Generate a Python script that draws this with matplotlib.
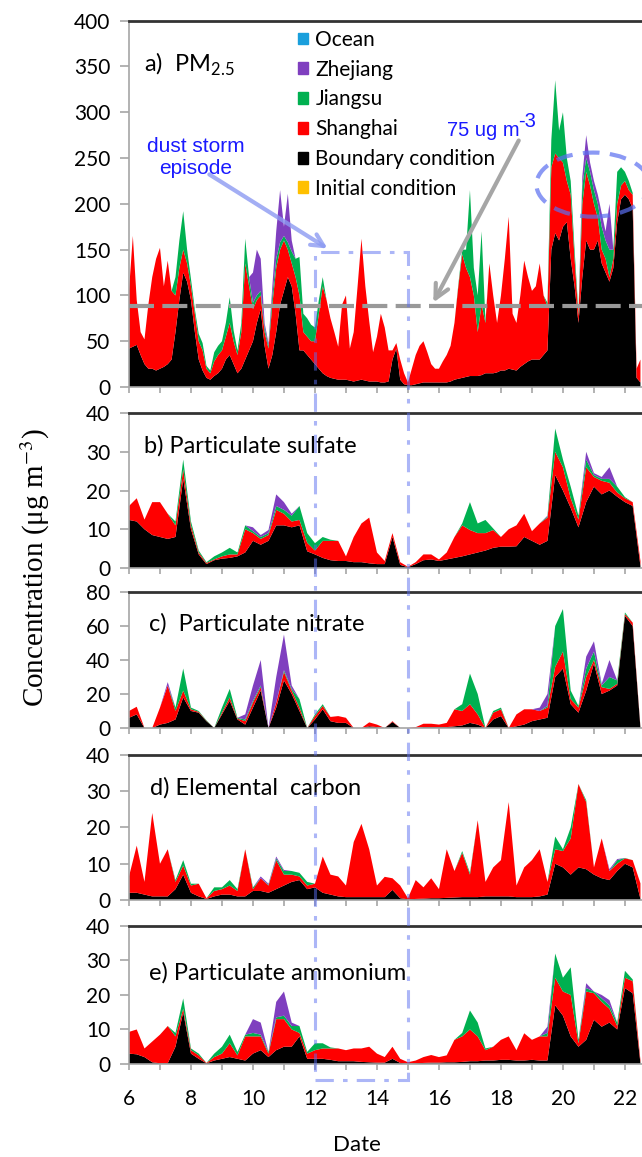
import numpy as np
import matplotlib.pyplot as plt
from matplotlib.patches import Patch, Rectangle, Ellipse, FancyArrowPatch

plt.rcParams['font.family'] = ['Lato', 'DejaVu Sans']
plt.rcParams['mathtext.fontset'] = 'custom'
plt.rcParams['mathtext.rm'] = 'Lato'

# time axes: PM2.5 every 3 h, the species every 6 h, day 6 to day 22.5
days_pm = np.arange(6, 22.51, 0.125)
days = np.arange(6, 22.51, 0.25)

# a) PM2.5 (one row per day)
pm25_boundary = [42, 44, 46, 35, 25, 20, 20, 18,
                 20, 22, 25, 30, 60, 95, 125, 115,
                 95, 60, 30, 18, 10, 8, 12, 15,
                 20, 30, 35, 25, 15, 20, 30, 40,
                 50, 70, 85, 45, 20, 35, 60, 90,
                 105, 120, 110, 80, 40, 40, 35, 30,
                 25, 20, 15, 12, 10, 9, 8, 8,
                 8, 7, 6, 7, 8, 7, 6, 6,
                 6, 5, 5, 6, 30, 42, 8, 3,
                 2, 2, 3, 4, 5, 5, 5, 5,
                 5, 5, 5, 6, 8, 9, 10, 11,
                 12, 12, 12, 13, 15, 15, 15, 16,
                 18, 18, 20, 19, 18, 22, 25, 28,
                 30, 30, 30, 35, 40, 150, 168, 160,
                 175, 180, 140, 110, 70, 120, 160, 150,
                 150, 160, 135, 125, 115, 130, 180, 205,
                 210, 205, 195, 10, 5]
pm25_shanghai = [63, 121, 49, 25, 27, 70, 100, 122,
                 132, 88, 113, 75, 40, 35, 25, 20,
                 15, 20, 20, 22, 10, 7, 16, 20,
                 20, 25, 35, 25, 20, 40, 105, 70,
                 35, 25, 15, 15, 22, 55, 70, 60,
                 55, 30, 25, 40, 60, 20, 20, 20,
                 25, 60, 95, 83, 65, 51, 36, 82,
                 92, 35, 54, 103, 154, 103, 66, 32,
                 49, 75, 60, 34, 10, 6, 22, 12,
                 3, 18, 32, 41, 45, 33, 20, 15,
                 15, 23, 30, 39, 62, 101, 135, 119,
                 108, 88, 48, 77, 55, 120, 85, 54,
                 82, 122, 166, 61, 52, 78, 113, 92,
                 75, 80, 105, 65, 48, 90, 87, 90,
                 70, 45, 70, 30, 8, 80, 75, 70,
                 50, 25, 15, 15, 5, 10, 20, 15,
                 15, 10, 15, 10, 25]
pm25_jiangsu = [0, 0, 0, 0, 0, 0, 0, 0,
                0, 0, 0, 0, 20, 30, 42, 15,
                8, 5, 8, 8, 3, 3, 10, 10,
                10, 15, 28, 12, 5, 10, 27, 10,
                7, 5, 5, 5, 3, 10, 10, 8,
                5, 8, 13, 20, 42, 20, 20, 18,
                15, 15, 10, 0, 0, 0, 0, 0,
                0, 0, 0, 0, 0, 0, 0, 0,
                0, 0, 0, 0, 0, 0, 0, 0,
                0, 0, 0, 0, 0, 0, 0, 0,
                0, 0, 0, 0, 0, 2, 5, 20,
                95, 30, 40, 80, 2, 0, 0, 0,
                0, 0, 0, 0, 0, 0, 0, 0,
                0, 0, 0, 0, 4, 30, 80, 30,
                55, 25, 15, 10, 4, 20, 15, 15,
                15, 15, 25, 20, 30, 10, 35, 20,
                10, 10, 2, 0, 0]
pm25_zhejiang = [0, 0, 0, 0, 0, 0, 0, 0,
                 0, 0, 0, 0, 0, 0, 0, 0,
                 0, 0, 0, 0, 0, 0, 0, 0,
                 0, 0, 0, 0, 0, 0, 0, 0,
                 33, 50, 35, 5, 3, 10, 30, 57,
                 10, 53, 12, 0, 0, 0, 0, 0,
                 0, 0, 0, 0, 0, 0, 0, 0,
                 0, 0, 0, 0, 0, 0, 0, 0,
                 0, 0, 0, 0, 0, 0, 0, 0,
                 0, 0, 0, 0, 0, 0, 0, 0,
                 0, 0, 0, 0, 0, 0, 0, 0,
                 0, 0, 0, 0, 0, 0, 0, 0,
                 0, 0, 0, 0, 0, 0, 0, 0,
                 0, 0, 0, 0, 0, 0, 0, 0,
                 0, 0, 0, 0, 0, 10, 25, 10,
                 10, 10, 15, 10, 50, 0, 0, 0,
                 0, 0, 0, 0, 0]

# b) sulfate
so4_boundary = [12.4, 12, 10, 8.5, 8, 7.5, 8, 23, 10, 3.5, 1, 2, 2.4, 2.6, 3, 4,
                7, 6, 7, 11, 11, 10.5, 11, 4.3, 3.5, 2.6, 2, 1.8, 1.8, 1.5, 1.5, 1.2,
                1, 1, 8, 0.8, 0.2, 1, 2, 2.2, 1.8, 2.2, 2.6, 3, 3.5, 4, 4.5, 5.2,
                5.5, 5.5, 5.6, 8, 7, 6, 7, 24, 20, 15.5, 10.5, 17, 21, 19, 20, 18.4,
                17, 16, 0.5]
so4_shanghai = [3.6, 6, 2.5, 8.5, 9, 6.5, 3, 2.5, 1, 0.5, 0.3, 0.2, 0.6, 0.9, 0.5, 6,
                2, 1.5, 1.5, 4, 3, 1.5, 1.4, 2.2, 1, 4.4, 5, 5.2, 1.2, 6.5, 10, 11.8,
                3, 0.8, 1, 0.7, 0.1, 0.5, 1.5, 1.3, 0.4, 1.8, 5.4, 8, 6.3, 5, 4.5, 4.6,
                2.5, 4.5, 5.4, 6, 2.5, 5.5, 6, 6, 6, 2.5, 2, 9, 2.5, 3.5, 2, 1.1,
                1, 1, 1.3]
so4_jiangsu = [0, 0, 0, 0, 0, 0, 1, 2.5, 1, 0.5, 0.2, 0.8, 1, 1.7, 0.5, 1,
               0.5, 0.5, 0.5, 1, 1, 1.5, 3.6, 2.5, 1.9, 1, 0.3, 0, 0, 0, 0, 0,
               0, 0, 0, 0, 0, 0, 0, 0, 0, 0, 0, 0.5, 7.2, 2.5, 3.4, 0.4,
               0, 0, 0, 0, 0, 0, 0.3, 6, 2, 3, 1, 2, 0.5, 0.5, 1, 1.5,
               0.3, 0, 0]
so4_zhejiang = [0, 0, 0, 0, 0, 0, 0, 0, 0, 0, 0, 0, 0, 0, 0, 0,
                1, 0.5, 0.8, 3, 2, 0.5, 0, 0, 0, 0, 0, 0, 0, 0, 0, 0,
                0, 0, 0, 0, 0, 0, 0, 0, 0, 0, 0, 0, 0, 0, 0, 0,
                0, 0, 0, 0, 0, 0, 0.2, 0, 0, 0, 0, 2, 0.5, 0.5, 3, 0,
                0, 0, 0]

# c) nitrate
no3_boundary = [6, 8, 0, 0, 2, 3, 5, 18, 10, 9, 4, 0, 8, 16, 5, 2,
                12, 22, 0, 12, 28, 20, 10, 0, 5, 11, 4, 3, 3, 0, 0, 1,
                0.5, 0, 3.5, 0, 0, 0, 0.5, 0.5, 0.5, 0.5, 1, 1.5, 3, 2, 0, 5,
                7, 0, 1, 2, 4, 5, 6, 30, 35, 14, 9, 22, 38, 20, 22, 25,
                66, 60, 0]
no3_shanghai = [4, 4.5, 0, 0, 10, 22, 5, 4, 1, 0.5, 0.2, 0, 1, 2, 0.5, 2,
                3, 2, 0, 3, 5, 2, 2, 0, 2, 2, 2.5, 4, 3, 0, 0, 2.3,
                1.5, 0, 0.5, 0, 0, 0.5, 2, 2, 1.5, 2.5, 10, 8.5, 11, 6, 0, 4,
                4, 0, 7, 9, 7, 5, 6, 6, 10, 3, 3, 8, 2, 4, 1, 1,
                1, 2, 0.5]
no3_jiangsu = [0, 0, 0, 0, 0, 0, 2, 13, 1, 0.5, 0.3, 0, 3, 5, 0.5, 1,
               1, 1, 0, 0, 1, 1, 5, 0, 1, 1, 0, 0, 0, 0, 0, 0,
               0, 0, 0, 0, 0, 0, 0, 0, 0, 0, 0, 4, 18, 12, 0, 1,
               1, 0, 0, 0, 0, 0, 1, 24, 25, 5, 1, 5, 5, 1, 7, 2,
               1, 0, 0]
no3_zhejiang = [0, 0, 0, 0, 0, 2, 0, 0, 0, 0, 0, 0, 0, 0, 0, 3,
                9, 15, 0, 15, 21, 2, 0, 0, 0, 0, 0, 0, 0, 0, 0, 0,
                0, 0, 0, 0, 0, 0, 0, 0, 0, 0, 0, 0, 0, 0, 0, 0,
                0, 0, 0, 0, 0, 2, 7, 0, 0, 0, 0, 7, 6, 1, 10, 0,
                0, 0, 0]

# d) elemental carbon
ec_boundary = [2, 2, 1.5, 1, 1, 1, 3, 7, 2, 1, 0.3, 1, 1.5, 1.5, 1, 1,
               2.5, 2.5, 2, 3, 4, 5, 5.5, 3, 3.5, 2, 1.5, 1, 0.8, 0.8, 0.8, 0.8,
               0.8, 0.8, 2.8, 0.5, 0.2, 0.3, 0.4, 0.5, 0.5, 0.6, 0.7, 0.8, 0.8, 0.8, 1, 1,
               1, 1, 0.8, 0.8, 0.8, 1, 1.5, 10, 9, 7, 9, 8.5, 7, 6, 5.5, 8,
               10, 9, 0.3]
ec_shanghai = [4.5, 13, 3.5, 23, 9, 13, 2, 2.5, 2, 3.5, 0.2, 1.5, 1.5, 2.5, 1.5, 13,
               0.5, 3.5, 2, 8, 3, 2, 1, 1, 1, 10, 5.5, 5.5, 3.2, 15.2, 20.2, 13.2,
               3.2, 5.6, 3.2, 3.5, 0.3, 5.2, 3.1, 5.5, 2.5, 13.4, 7.3, 12.2, 6.2, 21.2, 4, 8,
               10, 26, 3.2, 8.2, 10.2, 13, 3.5, 4, 4.5, 10, 23, 18.5, 2, 11, 2.5, 2,
               1.5, 2, 4.3]
ec_jiangsu = [0, 0, 0, 0, 0, 0, 0.5, 1.5, 0.5, 0, 0, 1, 0.5, 1.5, 0.5, 0,
              0.5, 0, 0.2, 0.5, 1, 1, 1, 1, 0, 0, 0, 0, 0, 0, 0, 0,
              0, 0, 0, 0, 0, 0, 0, 0, 0, 0, 0, 0.5, 0.5, 0, 0, 0,
              0, 0, 0, 0, 0, 0, 0, 3.5, 0.5, 3, 0, 0.5, 0, 0, 0, 1,
              0.1, 0, 0]
ec_zhejiang = [0, 0, 0, 0, 0, 0, 0, 0, 0, 0, 0, 0, 0, 0, 0, 0,
               0, 0.5, 0.3, 0.5, 0.3, 0, 0, 0, 0, 0, 0, 0, 0, 0, 0, 0,
               0, 0, 0, 0, 0, 0, 0, 0, 0, 0, 0, 0, 0, 0, 0, 0,
               0, 0, 0, 0, 0, 0, 0, 0, 0, 0, 0, 0, 0, 0, 0.5, 0.3,
               0, 0, 0]

# e) ammonium
nh4_boundary = [3, 2.8, 2, 0.5, 0.2, 0.2, 5, 15, 3, 1.5, 0.2, 1, 1.5, 2, 1.5, 1,
                3, 4, 2, 4, 5, 5, 8, 1.5, 1.5, 1.5, 1.2, 0.8, 0.8, 0.8, 0.6, 0.5,
                0.4, 0.4, 1.5, 0.3, 0.1, 0.2, 0.3, 0.4, 0.4, 0.5, 0.5, 0.6, 0.8, 0.8, 1, 1,
                1.2, 1.2, 1, 1, 1.2, 1, 1, 17, 14, 8, 5, 7, 12.8, 10.8, 12, 10,
                22, 20.5, 0.2]
nh4_shanghai = [6.3, 7.2, 2.5, 6, 8.3, 10.8, 3, 1, 1, 1, 0.1, 1, 1.5, 4, 1, 7,
                5, 4, 1, 9, 8, 5, 1, 1.5, 2.5, 3, 3.3, 3.7, 3.2, 3.7, 3.9, 4.5,
                2.6, 1.6, 3.5, 1.2, 0.4, 0.8, 1.7, 2.2, 1.6, 2, 6.5, 7.4, 9.2, 7.2, 3, 4,
                5.8, 6.8, 3, 7.9, 5.8, 7, 7, 8, 7, 12, 1, 14, 7.7, 7.2, 4, 1,
                3, 3.5, 0.8]
nh4_jiangsu = [0, 0, 0, 0, 0, 0, 1, 3, 0.5, 0.5, 0, 1, 2, 2.5, 1, 0.5,
               1, 0.5, 0.5, 0.5, 1, 1, 2, 0.5, 2, 1.5, 0.3, 0, 0, 0, 0, 0,
               0, 0, 0, 0, 0, 0, 0, 0, 0, 0, 0, 1, 5.5, 4, 0.5, 0,
               0, 0, 0, 0, 0, 0, 1, 7, 4, 8, 1, 1, 0.5, 1, 1, 1,
               2, 0.5, 0]
nh4_zhejiang = [0, 0, 0, 0, 0, 0, 0, 0, 0, 0, 0, 0, 0, 0, 0, 0,
                4, 3.5, 0, 4.5, 7, 1, 0, 0, 0, 0, 0, 0, 0, 0, 0, 0,
                0, 0, 0, 0, 0, 0, 0, 0, 0, 0, 0, 0, 0, 0, 0, 0,
                0, 0, 0, 0, 0, 0, 1.8, 0, 0, 0, 0, 1.4, 0, 1, 1.5, 0,
                0, 0, 0]

source_names = ['Ocean', 'Zhejiang', 'Jiangsu', 'Shanghai', 'Boundary condition', 'Initial condition']
source_colors = ['#1a9fdc', '#7f3fbf', '#00b050', '#ff0000', '#000000', '#ffc000']
stack_colors = ['#000000', '#ff0000', '#00b050', '#7f3fbf']

panels = [
    # bottom, height, ymax, step, title, title x, title y, time, series
    (0.6655, 0.3166, 400, 50, r'a)  PM$_{\mathregular{2.5}}$', 0.029, 0.861, days_pm,
     (pm25_boundary, pm25_shanghai, pm25_jiangsu, pm25_zhejiang)),
    (0.5091, 0.1339, 40, 10, 'b) Particulate sulfate', 0.029, 0.742, days,
     (so4_boundary, so4_shanghai, so4_jiangsu, so4_zhejiang)),
    (0.3708, 0.1175, 80, 20, 'c)  Particulate nitrate', 0.039, 0.72, days,
     (no3_boundary, no3_shanghai, no3_jiangsu, no3_zhejiang)),
    (0.2221, 0.1254, 40, 10, 'd) Elemental  carbon', 0.041, 0.724, days,
     (ec_boundary, ec_shanghai, ec_jiangsu, ec_zhejiang)),
    (0.0804, 0.1193, 40, 10, 'e) Particulate ammonium', 0.039, 0.609, days,
     (nh4_boundary, nh4_shanghai, nh4_jiangsu, nh4_zhejiang)),
]

fig = plt.figure(figsize=(6.42, 11.57), dpi=100)
left, width = 0.2009, 0.7991
axes = []
for i, (bottom, height, ymax, step, title, tx, ty, t, series) in enumerate(panels):
    ax = fig.add_axes([left, bottom, width, height])
    ax.stackplot(t, *series, colors=stack_colors, linewidth=0)
    ax.set_xlim(6, 22.55)
    ax.set_ylim(0, ymax)
    ax.set_yticks(np.arange(0, ymax + 1, step))
    ax.set_xticks(np.arange(6, 23, 1))
    if i == len(panels) - 1:
        ax.set_xticklabels([str(d) if d % 2 == 0 else '' for d in range(6, 23)])
    else:
        ax.set_xticklabels([])
    ax.tick_params(axis='y', direction='out', length=6.5, width=1.2, color='#a6a6a6',
                   labelsize=15, pad=7)
    ax.tick_params(axis='x', direction='out', length=4, width=1.2, color='#a6a6a6',
                   labelsize=15, pad=14)
    for s in ['left', 'bottom']:
        ax.spines[s].set_color('#a6a6a6')
        ax.spines[s].set_linewidth(1.2)
    ax.spines['right'].set_visible(False)
    ax.spines['top'].set_color('#333333')
    ax.spines['top'].set_linewidth(2)
    ax.text(tx, ty, title, transform=ax.transAxes, fontsize=17, ha='left', va='baseline')
    axes.append(ax)

ax_a, ax_e = axes[0], axes[-1]

# legend
handles = [Patch(color=c, label=n) for n, c in zip(source_names, source_colors)]
ax_a.legend(handles=handles, loc='upper left', bbox_to_anchor=(0.329, 0.975), frameon=False,
            fontsize=15, handlelength=0.5, handleheight=0.5, handletextpad=0.35,
            labelspacing=0.47, borderpad=0, borderaxespad=0)

# 75 ug m-3 reference line
ax_a.axhline(88, color='#999999', lw=3, dashes=(6, 2), zorder=5)

# haze episode ellipse
ax_a.add_patch(Ellipse((20.97, 221), 3.65, 70, fill=False, ec='#5a6ef0', lw=3,
                       ls=(0, (4, 2.5)), alpha=0.7, zorder=6))

# dust storm box, spanning all panels
to_fig = fig.transFigure.inverted()
x0, y1 = to_fig.transform(ax_a.transData.transform((12, 147)))
x1, y0 = to_fig.transform(ax_e.transData.transform((15, -4.6)))
fig.add_artist(Rectangle((x0, y0), x1 - x0, y1 - y0, transform=fig.transFigure, fill=False,
                         ec='#5a6ef0', lw=2.2, ls=(0, (6, 3, 1.5, 3)), alpha=0.5, zorder=10))

# annotations
fig.text(0.305, 0.8639, 'dust storm\nepisode', color='#1a1aff', fontsize=15, ha='center',
         va='center', linespacing=1.2, family='Liberation Sans')
fig.add_artist(FancyArrowPatch((0.3224, 0.8505), (0.514, 0.7839), transform=fig.transFigure,
                               arrowstyle='->', mutation_scale=22, color='#8c9af2', lw=3,
                               alpha=0.8, zorder=10))
fig.text(0.696, 0.8876, '75 ug m', color='#1a1aff', fontsize=14.5, ha='left', va='center',
         family='Liberation Sans')
fig.text(0.8069, 0.8954, '-3', color='#1a1aff', fontsize=14.5, ha='left', va='center',
         family='Liberation Sans')
fig.add_artist(FancyArrowPatch((0.810, 0.8807), (0.6729, 0.7364), transform=fig.transFigure,
                               arrowstyle='->', mutation_scale=25, color='#a6a6a6', lw=3,
                               zorder=10))

fig.text(0.0545, 0.509, 'Concentration (μg m$^{-3}$)', rotation=90, fontsize=21,
         ha='center', va='center', family='Liberation Serif', math_fontfamily='stix')
fig.text(0.556, 0.0104, 'Date', fontsize=16, ha='center', va='center')

fig.savefig('out.png', dpi=100)
